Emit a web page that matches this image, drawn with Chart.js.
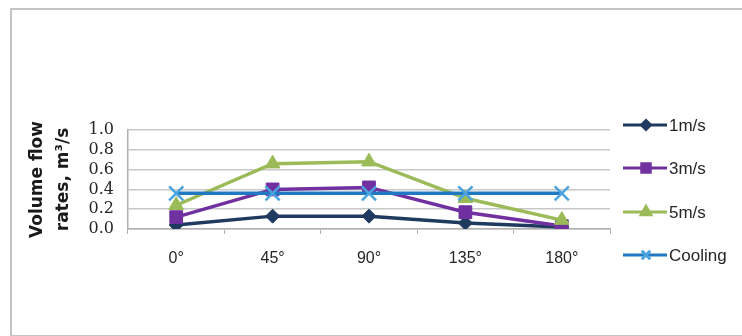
<!DOCTYPE html>
<html>
<head>
<meta charset="utf-8">
<script src="https://cdn.jsdelivr.net/npm/chart.js@4.4.1/dist/chart.umd.min.js"></script>
<style>
  html,body{margin:0;padding:0;background:#fff;width:742px;height:336px;overflow:hidden;}
  #frame{position:absolute;left:10px;top:8px;width:800px;height:325px;border:2px solid #c4c4c4;}
  #wrap{position:absolute;left:0;top:0;width:742px;height:336px;}
</style>
</head>
<body>
<div id="frame"></div>
<div id="wrap"><canvas id="c" width="742" height="336"></canvas></div>
<script>
const categories = ["0°", "45°", "90°", "135°", "180°"];
const seriesNames = ["1m/s", "3m/s", "5m/s", "Cooling"];
const v1ms = [0.04, 0.13, 0.13, 0.06, 0.02];
const v3ms = [0.12, 0.40, 0.42, 0.17, 0.03];
const v5ms = [0.24, 0.66, 0.68, 0.31, 0.09];
const vCooling = [0.36, 0.36, 0.36, 0.36, 0.36];
const yTitle = ["Volume flow", "rates, m³/s"];

const styles = [
  {color:"#1f3a5f", point:"rectRot", r:7, pr:4.5, order:4, pc:"#1f3a5f"},
  {color:"#7030a0", point:"rect", r:9, pr:6, order:3, pc:"#7030a0"},
  {color:"#9bbb59", point:"triangle", r:8.5, pr:5.5, order:2, pc:"#9bbb59"},
  {color:"#1f78c1", point:"crossRot", r:10, pr:6, order:1, pc:"#4aa3df"}
];
const values = [v1ms, v3ms, v5ms, vCooling];

const datasets = values.map((v, i) => ({
  label: seriesNames[i],
  data: v,
  borderColor: styles[i].color,
  backgroundColor: styles[i].pc,
  borderWidth: 3.5,
  pointStyle: styles[i].point,
  pointRadius: styles[i].r,
  pointBorderColor: styles[i].pc,
  pointBackgroundColor: styles[i].pc,
  pointBorderWidth: i === 3 ? 2.5 : 1,
  order: styles[i].order,
  tension: 0
}));

const legendPlugin = {
  id: 'customLegend',
  afterDraw(chart) {
    const ctx = chart.ctx;
    const ys = [125, 168, 212, 255];
    ctx.save();
    chart.data.datasets.forEach((ds, i) => {
      const y = ys[i];
      ctx.strokeStyle = ds.borderColor;
      ctx.lineWidth = 3;
      ctx.beginPath();
      ctx.moveTo(623, y);
      ctx.lineTo(667, y);
      ctx.stroke();
      ctx.fillStyle = styles[i].pc;
      ctx.strokeStyle = styles[i].pc;
      Chart.helpers.drawPoint(ctx, {pointStyle: styles[i].point, radius: styles[i].pr, borderWidth: i === 3 ? 1.5 : 1, rotation: 0}, 646, y);
      ctx.fillStyle = "#262626";
      ctx.font = "17px 'Liberation Sans'";
      ctx.textBaseline = "middle";
      ctx.textAlign = "left";
      ctx.fillText(ds.label, 669, y + 1);
    });
    ctx.restore();
  }
};

new Chart(document.getElementById('c'), {
  type: 'line',
  data: { labels: categories, datasets },
  plugins: [legendPlugin],
  options: {
    responsive: false,
    animation: false,
    layout: { padding: { top: 130, right: 132, left: 0, bottom: 0 } },
    plugins: { legend: { display: false }, tooltip: { enabled: false } },
    scales: {
      x: {
        type: 'category',
        offset: true,
        afterFit: s => { s.height = 107; },
        grid: { display: true, drawOnChartArea: false, drawTicks: true, tickLength: 5, color: "#b0b0b0", offset: true },
        border: { display: true, color: "#b0b0b0", width: 1.5 },
        ticks: { color: "#262626", font: { family: "'Liberation Sans'", size: 16 }, padding: 15, maxRotation: 0 }
      },
      y: {
        min: 0, max: 1,
        afterFit: s => { s.width = 128; },
        grid: { color: "#c8c8c8", lineWidth: 1.5, drawTicks: false },
        border: { display: true, color: "#b0b0b0", width: 1.5 },
        ticks: { stepSize: 0.2, autoSkip: false, padding: 14, color: "#262626",
          font: { family: "'DejaVu Serif'", size: 16 },
          callback: v => Number(v).toFixed(1) },
        title: { display: true, text: yTitle, color: "#1a1a1a",
          font: { family: "'DejaVu Sans'", size: 17, weight: 'bold', lineHeight: 1.55 },
          padding: { top: 24, bottom: 0 } }
      }
    }
  }
});
</script>
</body>
</html>
